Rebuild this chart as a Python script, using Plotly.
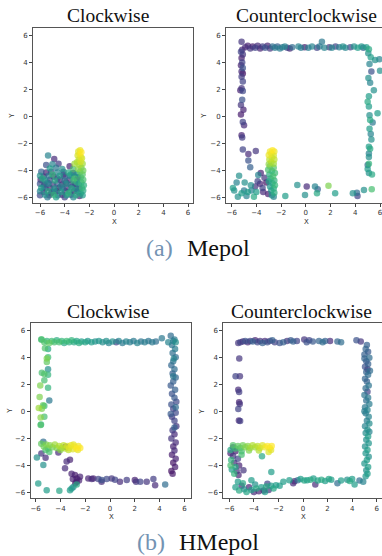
import plotly.graph_objects as go

# ---------------- data: (x, y, time-colour 0..1) ----------------
MEPOL_CW = [
    (-5.35,-2.9,0.45),(-4.85,-3.15,0.12),(-4.5,-3.5,0.18),(-5.5,-3.6,0.25),(-5.0,-3.55,0.45),
    (-3.6,-3.7,0.10),(-3.2,-3.5,0.85),(-3.3,-3.9,0.7),(-4.2,-3.9,0.5),(-5.2,-3.85,0.55),(-4.7,-3.8,0.4),
    (-2.75,-2.5,0.97),(-2.9,-2.6,0.95),(-2.65,-2.65,1.0),(-2.8,-2.8,0.98),(-2.95,-2.9,0.93),(-2.7,-3.0,0.96),
    (-2.6,-3.1,0.92),(-2.85,-3.2,0.9),(-3.0,-3.4,0.88),(-2.7,-3.35,0.94),(-2.55,-3.5,0.85),(-2.8,-3.6,0.87),
    (-2.65,-3.8,0.8),(-2.9,-3.9,0.82),(-2.5,-4.0,0.78),(-2.75,-4.1,0.75),
    (-2.55,-4.3,0.72),(-2.7,-4.5,0.68),(-2.5,-4.7,0.7),(-2.65,-4.9,0.65),(-2.45,-5.1,0.62),(-2.6,-5.3,0.66),
    (-2.5,-5.5,0.6),(-2.7,-5.7,0.58),(-2.55,-5.85,0.55),
    (-5.9,-4.1,0.3),(-5.5,-4.15,0.1),(-5.1,-4.1,0.2),(-4.6,-4.15,0.45),(-4.1,-4.1,0.35),(-3.7,-4.15,0.6),(-3.3,-4.2,0.1),(-3.0,-4.25,0.55),
    (-6.0,-4.4,0.5),(-5.7,-4.45,0.15),(-5.3,-4.4,0.4),(-4.9,-4.45,0.08),(-4.4,-4.4,0.55),(-4.0,-4.45,0.2),(-3.6,-4.4,0.45),(-3.2,-4.45,0.3),(-2.9,-4.5,0.12),
    (-5.95,-4.7,0.1),(-5.6,-4.75,0.5),(-5.2,-4.7,0.2),(-4.8,-4.75,0.6),(-4.4,-4.7,0.12),(-4.0,-4.75,0.4),(-3.6,-4.7,0.15),(-3.3,-4.75,0.65),(-3.0,-4.7,0.25),
    (-6.0,-5.0,0.25),(-5.65,-5.05,0.05),(-5.3,-5.0,0.45),(-4.95,-5.05,0.15),(-4.6,-5.0,0.3),(-4.2,-5.05,0.08),(-3.85,-5.0,0.5),(-3.5,-5.05,0.2),(-3.15,-5.0,0.1),(-2.85,-5.05,0.45),
    (-5.9,-5.3,0.55),(-5.55,-5.35,0.2),(-5.2,-5.3,0.1),(-4.85,-5.35,0.5),(-4.5,-5.3,0.05),(-4.15,-5.35,0.35),(-3.8,-5.3,0.12),(-3.45,-5.35,0.6),(-3.1,-5.3,0.2),(-2.8,-5.35,0.15),
    (-6.0,-5.55,0.45),(-5.7,-5.6,0.12),(-5.35,-5.55,0.6),(-5.0,-5.6,0.25),(-4.65,-5.55,0.1),(-4.3,-5.6,0.55),(-3.95,-5.55,0.15),(-3.6,-5.6,0.4),(-3.25,-5.55,0.05),(-2.9,-5.6,0.3),
    (-6.0,-5.85,0.22),(-5.6,-5.8,0.5),(-5.25,-5.85,0.15),(-4.9,-5.8,0.65),(-4.55,-5.85,0.3),(-4.2,-5.8,0.1),(-3.85,-5.85,0.55),(-3.5,-5.8,0.2),(-3.1,-5.85,0.6),(-2.8,-5.9,0.1),
    (-5.4,-6.0,0.4),(-4.7,-6.0,0.55),(-4.0,-6.0,0.2),(-3.3,-6.0,0.45),
    (-5.8,-4.6,0.6),(-5.4,-4.9,0.3),(-5.0,-4.3,0.65),(-4.6,-4.6,0.25),(-4.3,-5.2,0.45),(-3.9,-4.9,0.1),(-3.5,-4.3,0.55),
    (-3.4,-5.2,0.3),(-3.0,-4.9,0.6),(-4.8,-5.5,0.4),(-5.1,-5.7,0.08),(-3.7,-5.7,0.65),(-4.1,-4.3,0.15),(-5.7,-5.2,0.35),
    (-3.2,-4.6,0.7),(-3.05,-5.45,0.5),
]

MEPOL_CCW = [
    (-4.9,5.15,0.12),(-4.7,5.25,0.1),(-4.5,5.05,0.15),(-4.3,5.2,0.08),(-4.1,5.1,0.2),(-3.9,5.25,0.12),(-3.7,5.05,0.1),
    (-3.5,5.2,0.18),(-3.3,5.1,0.25),(-3.1,5.25,0.1),(-2.9,5.05,0.15),(-2.7,5.2,0.35),(-2.5,5.1,0.4),(-2.3,5.2,0.3),
    (-2.1,5.05,0.42),(-1.9,5.15,0.38),(-1.7,5.2,0.45),(-1.5,5.1,0.2),(-1.3,5.05,0.1),(-1.1,5.15,0.35),(-0.6,5.2,0.45),
    (-0.4,5.1,0.4),(-0.1,5.15,0.08),(0.2,5.1,0.42),(0.5,5.2,0.45),(0.9,5.1,0.2),(1.1,5.2,0.4),(1.3,5.55,0.4),
    (1.5,5.1,0.45),(1.9,5.15,0.15),(2.1,5.1,0.45),(2.4,5.2,0.2),(2.7,5.15,0.42),(3.0,5.2,0.5),(3.2,5.1,0.45),
    (3.6,5.15,0.2),(3.9,5.2,0.5),(4.2,5.1,0.55),(4.5,5.2,0.52),(4.65,5.1,0.3),(4.9,5.15,0.55),(5.1,5.0,0.6),
    (-5.2,5.55,0.15),(-5.15,4.95,0.12),(-5.25,4.8,0.2),(-5.1,4.6,0.15),(-5.2,4.35,0.08),(-5.15,4.0,0.2),(-5.25,3.8,0.1),
    (-5.1,3.6,0.25),(-5.2,3.35,0.12),(-5.1,3.2,0.05),(-5.2,2.95,0.18),(-5.1,2.6,0.2),(-5.2,2.1,0.15),(-5.3,1.95,0.1),
    (-5.1,1.9,0.22),(-5.15,1.25,0.25),(-5.25,0.85,0.15),(-5.05,0.5,0.1),(-5.25,0.15,0.08),(-5.1,-0.4,0.2),
    (-5.0,-0.65,0.12),(-5.2,-1.4,0.1),(-5.15,-1.55,0.18),
    (5.05,4.7,0.5),(5.6,4.2,0.5),(5.95,4.25,0.45),(5.3,3.35,0.25),(6.0,3.4,0.5),(5.06,2.85,0.5),(5.2,2.5,0.45),
    (5.5,1.95,0.5),(5.0,1.1,0.6),(5.1,0.75,0.55),(5.8,0.25,0.55),(5.15,0.1,0.5),(5.2,-0.25,0.6),(5.4,-0.45,0.4),
    (5.15,-0.9,0.55),(5.3,-1.7,0.5),(5.1,-2.25,0.55),(5.2,-2.4,0.6),(5.1,-2.75,0.45),(5.1,-3.0,0.5),(5.1,-3.5,0.65),
    (5.0,-3.9,0.55),(5.1,-4.2,0.5),(5.35,-4.3,0.6),(5.25,4.4,0.55),(5.15,3.9,0.45),(5.1,1.5,0.55),(5.25,-1.3,0.45),
    (5.0,-3.6,0.35),
    (-0.69,-5.08,0.5),(0.07,-5.2,0.12),(-0.07,-5.82,0.5),(0.74,-5.2,0.45),(0.96,-5.4,0.3),(0.9,-5.7,0.6),
    (1.83,-5.14,0.8),(2.37,-5.7,0.55),(-1.66,-5.9,0.55),(3.8,-5.7,0.5),(4.13,-5.65,0.35),(4.18,-5.9,0.2),
    (4.7,-5.45,0.5),(5.33,-5.4,0.7),
    (-5.1,-2.45,0.2),(-4.65,-2.78,0.12),(-4.05,-2.56,0.15),(-4.65,-3.27,0.25),(-4.5,-3.76,0.3),
    (-5.4,-4.4,0.5),(-3.85,-4.35,0.45),(-5.6,-4.9,0.45),(-5.8,-5.5,0.5),(-5.9,-5.3,0.55),(-4.95,-4.9,0.5),
    (-4.45,-5.1,0.5),(-4.4,-5.5,0.45),(-4.0,-5.6,0.55),(-5.2,-5.7,0.55),(-5.5,-5.95,0.5),(-4.8,-5.9,0.45),
    (-4.2,-5.95,0.6),(-5.0,-5.5,0.4),(-4.7,-5.6,0.55),
    (-3.65,-4.2,0.1),(-3.35,-4.55,0.15),(-3.7,-5.0,0.1),(-3.45,-5.6,0.12),(-3.05,-5.75,0.08),(-3.9,-4.8,0.2),
    (-3.2,-4.9,0.05),(-3.5,-5.3,0.2),(-4.1,-5.2,0.15),
    (-2.7,-2.5,1.0),(-2.9,-2.6,0.98),(-2.55,-2.6,0.97),(-2.8,-2.75,0.95),(-3.0,-2.85,0.97),(-2.6,-2.9,0.93),
    (-2.75,-3.05,0.92),(-2.95,-3.2,0.9),(-2.55,-3.2,0.9),(-2.8,-3.4,0.87),(-2.6,-3.5,0.85),(-3.0,-3.55,0.83),
    (-2.9,-3.7,0.75),(-2.6,-3.8,0.72),(-3.05,-3.95,0.7),(-2.75,-4.05,0.66),(-2.5,-4.2,0.68),(-2.95,-4.3,0.62),
    (-2.65,-4.45,0.7),(-2.85,-4.6,0.6),(-2.55,-4.75,0.64),(-3.0,-4.8,0.55),(-2.7,-4.95,0.58),(-2.5,-5.1,0.66),
    (-2.9,-5.2,0.52),(-2.6,-5.35,0.6),(-2.8,-5.5,0.55),(-2.55,-5.65,0.62),(-2.75,-5.85,0.5),(-2.6,-5.95,0.45),
]

HMEPOL_CW = [
    (-5.55,5.3,0.7),(-5.3,5.1,0.72),(-5.1,5.2,0.65),(-4.9,5.05,0.75),(-4.7,5.2,0.68),(-4.5,5.1,0.7),(-4.3,5.25,0.62),
    (-4.1,5.1,0.7),(-3.9,5.2,0.66),(-3.7,5.05,0.6),(-3.5,5.2,0.68),(-3.3,5.1,0.62),(-3.1,5.25,0.65),(-2.9,5.1,0.6),
    (-2.7,5.2,0.58),(-2.5,5.05,0.62),(-2.3,5.15,0.55),(-2.0,5.1,0.58),(-1.8,5.2,0.52),(-1.5,5.1,0.55),(-1.2,5.15,0.5),
    (-0.9,5.2,0.52),(-0.6,5.1,0.48),(-0.3,5.2,0.5),(-0.1,5.05,0.45),(0.2,5.15,0.5),(0.5,5.1,0.2),(0.7,5.2,0.45),
    (1.0,5.05,0.4),(1.3,5.15,0.45),(1.6,5.1,0.42),(1.9,5.2,0.4),(2.2,5.05,0.45),(2.5,5.15,0.38),(2.8,5.1,0.42),
    (3.1,5.2,0.38),(3.4,5.1,0.4),(3.7,5.15,0.36),(4.18,5.4,0.4),(4.9,5.58,0.35),(4.7,5.1,0.45),(5.1,5.2,0.42),(5.3,5.1,0.5),
    (5.2,5.3,0.4),(5.0,4.9,0.38),(5.25,4.6,0.42),(5.05,4.3,0.36),(5.3,4.0,0.35),(5.1,3.7,0.38),(4.95,3.4,0.33),
    (5.2,3.1,0.35),(5.05,2.8,0.3),(5.3,2.5,0.33),(5.1,2.2,0.3),(4.9,1.9,0.28),(5.25,1.6,0.3),(5.0,1.3,0.25),
    (5.2,1.0,0.28),(5.35,0.7,0.22),(4.95,0.5,0.25),(5.1,0.2,0.2),(5.3,-0.1,0.22),(5.0,-0.4,0.18),(5.2,-0.7,0.2),
    (5.35,-1.1,0.15),(5.05,-1.4,0.18),(5.2,-1.7,0.12),(4.95,-2.0,0.15),(5.3,-2.3,0.12),(5.1,-2.6,0.1),(5.2,-2.9,0.12),
    (5.0,-3.2,0.08),(5.3,-3.5,0.1),(5.1,-3.8,0.06),(5.25,-4.1,0.08),(4.95,-4.4,0.05),(5.05,-4.6,0.07),(5.2,-1.2,0.3),
    (5.3,0.3,0.35),(5.1,2.6,0.4),(4.9,-0.2,0.28),(5.15,3.9,0.45),
    (-1.35,-4.96,0.1),(-0.68,-5.2,0.12),(-0.94,-5.0,0.2),(-0.67,-5.07,0.25),(-0.27,-5.0,0.22),(0.13,-4.96,0.15),
    (0.4,-5.05,0.2),(0.8,-5.2,0.12),(1.35,-5.07,0.18),(2.0,-5.07,0.1),(2.1,-5.2,0.15),(2.44,-5.2,0.2),(2.96,-5.2,0.15),
    (3.5,-5.0,0.18),(3.64,-5.45,0.12),(4.45,-5.4,0.35),(-1.75,-4.95,0.1),(-1.48,-5.0,0.12),
    (-2.69,-5.2,0.08),(-2.42,-4.83,0.1),(-2.69,-4.95,0.05),(-2.83,-4.7,0.08),(-3.1,-4.6,0.1),(-3.63,-4.2,0.12),
    (-3.23,-3.57,0.1),(-3.5,-3.7,0.12),(-2.5,-5.1,0.1),(-2.8,-5.3,0.06),(-3.0,-5.0,0.1),
    (-4.17,-3.04,0.12),(-5.54,-3.12,0.15),(-5.2,-3.43,0.12),(-5.38,-3.97,0.5),(-5.79,-5.33,0.55),(-5.11,-5.82,0.55),
    (-4.09,-5.87,0.58),(-3.23,-5.82,0.55),(-2.96,-5.58,0.5),(-2.69,-5.4,0.6),(-3.1,-5.7,0.52),(-5.38,-2.25,0.35),
    (-5.57,-0.97,0.65),(-5.9,-3.4,0.5),(-4.9,-3.0,0.7),
    (-5.55,-2.4,0.75),(-5.35,-2.6,0.78),(-5.15,-2.45,0.8),(-5.0,-2.75,0.72),(-4.85,-2.5,0.82),(-4.65,-2.65,0.78),
    (-4.45,-2.45,0.85),(-4.3,-2.7,0.8),(-4.1,-2.55,0.88),(-3.9,-2.7,0.85),(-3.75,-2.5,0.9),(-3.6,-2.75,0.88),
    (-3.45,-2.55,0.93),(-3.3,-2.7,0.95),(-3.15,-2.5,0.97),(-3.0,-2.8,0.95),(-2.85,-2.6,0.98),(-2.7,-2.75,1.0),
    (-2.55,-2.55,0.98),(-2.4,-2.7,1.0),(-2.6,-2.85,0.96),(-2.95,-2.45,0.96),(-3.35,-2.85,0.9),(-4.0,-2.85,0.82),
    (-5.2,-2.85,0.7),(-3.6,-2.62,0.08),
    (-5.52,5.31,0.7),(-5.25,4.65,0.72),(-5.0,4.6,0.6),(-5.1,3.9,0.8),(-5.0,4.0,0.68),(-5.1,3.65,0.75),(-5.0,3.1,0.5),
    (-5.5,2.85,0.7),(-5.3,2.75,0.72),(-5.0,2.7,0.65),(-5.3,2.3,0.7),(-5.63,1.9,0.8),(-5.0,1.75,0.65),(-4.9,0.8,0.4),
    (-5.68,1.05,0.8),(-5.75,0.25,0.85),(-5.5,0.2,0.8),(-5.4,0.45,0.75),(-5.3,0.4,0.68),(-5.6,-0.45,0.82),
    (-5.3,-0.4,0.7),(-5.6,-1.0,0.72),
]

HMEPOL_CCW = [
    (-5.27,5.05,0.15),(-5.1,5.1,0.2),(-4.9,5.15,0.1),(-4.7,5.2,0.25),(-4.5,5.1,0.12),(-4.3,5.2,0.2),(-4.1,5.15,0.3),
    (-3.9,5.25,0.1),(-3.7,5.1,0.22),(-3.5,5.2,0.15),(-3.3,5.05,0.3),(-3.1,5.2,0.12),(-2.9,5.1,0.25),(-2.7,5.2,0.18),
    (-2.5,5.25,0.3),(-2.3,5.1,0.2),(-1.9,5.05,0.25),(-1.6,5.1,0.3),(-1.3,5.2,0.15),(-1.0,5.25,0.28),(-0.8,5.15,0.3),
    (-0.5,5.2,0.2),(0.1,5.3,0.15),(0.3,5.1,0.25),(0.5,5.25,0.2),(0.8,5.15,0.28),(1.3,5.2,0.32),(1.6,5.1,0.35),
    (1.8,5.2,0.3),(2.2,5.2,0.12),(2.8,5.15,0.32),(3.1,5.1,0.35),(4.35,5.25,0.25),(4.7,5.15,0.15),
    (-5.19,3.9,0.15),(-5.49,2.6,0.2),(-5.14,2.6,0.15),(-5.27,1.6,0.12),(-5.2,1.43,0.18),(-5.2,0.67,0.1),
    (-5.15,0.55,0.15),(-5.27,0.18,0.2),(-5.22,-0.68,0.12),(-5.12,-0.72,0.18),
    (5.2,4.9,0.3),(5.1,4.6,0.32),(5.3,4.4,0.28),(5.0,4.2,0.3),(5.4,3.95,0.35),(5.15,3.7,0.28),(5.3,3.5,0.3),
    (5.05,3.3,0.25),(5.25,3.1,0.12),(5.15,2.9,0.3),(5.3,2.7,0.35),(5.05,2.4,0.32),(5.2,2.2,0.3),(5.35,1.9,0.38),
    (5.1,1.7,0.35),(5.25,1.45,0.2),(5.0,1.2,0.38),(5.3,1.0,0.4),(5.15,0.8,0.35),(5.4,0.55,0.42),(5.05,0.3,0.4),
    (5.25,0.1,0.45),(5.1,-0.15,0.4),(5.35,-0.4,0.45),(5.2,-0.7,0.42),(5.4,-0.9,0.48),(5.05,-1.1,0.45),(5.25,-1.35,0.5),
    (5.1,-1.6,0.48),(5.3,-1.85,0.55),(5.15,-2.1,0.5),(5.35,-2.35,0.52),(5.05,-2.6,0.5),(5.25,-2.85,0.55),(5.1,-3.1,0.52),
    (5.35,-3.35,0.5),(5.2,-3.6,0.55),(5.0,-3.85,0.52),(5.3,-4.1,0.55),(5.15,-4.35,0.5),(5.25,-4.6,0.55),(5.1,-4.8,0.52),
    (5.45,3.0,0.35),(5.0,3.9,0.32),(5.4,-1.5,0.45),(5.0,0.0,0.42),
    (-1.6,-5.2,0.55),(-1.11,-5.08,0.55),(-0.8,-5.3,0.12),(-0.7,-5.16,0.1),(-0.43,-5.08,0.35),(-0.2,-5.0,0.55),
    (0.1,-5.1,0.58),(0.33,-5.08,0.55),(0.6,-5.05,0.6),(0.85,-4.95,0.55),(1.0,-5.4,0.12),(1.2,-5.1,0.58),(1.5,-5.05,0.6),
    (1.8,-5.15,0.55),(2.1,-5.0,0.58),(2.3,-5.05,0.55),(2.8,-5.3,0.35),(3.1,-5.1,0.55),(3.6,-5.05,0.5),(3.8,-5.15,0.6),
    (4.0,-5.0,0.55),(4.2,-5.4,0.55),(4.6,-5.1,0.35),(4.9,-5.2,0.45),
    (-5.9,-2.85,0.6),(-5.7,-2.5,0.72),(-5.5,-2.75,0.68),(-5.3,-2.55,0.75),(-5.1,-2.7,0.72),(-4.9,-2.5,0.78),
    (-4.7,-2.65,0.8),(-4.5,-2.55,0.82),(-4.3,-2.7,0.85),(-4.1,-2.5,0.88),(-3.9,-2.65,0.85),(-3.7,-2.55,0.9),
    (-3.5,-2.7,0.92),(-3.3,-2.5,0.95),(-3.1,-2.65,0.97),(-2.9,-2.55,1.0),(-2.7,-2.7,0.98),(-2.55,-2.55,1.0),
    (-2.6,-2.85,0.96),(-2.8,-3.0,0.95),(-3.6,-2.9,0.88),(-4.4,-2.9,0.8),(-5.0,-2.95,0.7),(-3.34,-3.31,0.6),
    (-5.9,-3.1,0.1),(-5.7,-3.3,0.15),(-5.5,-2.95,0.08),(-5.85,-3.6,0.65),(-5.6,-3.8,0.12),(-5.3,-3.5,0.2),
    (-5.5,-4.1,0.6),(-5.2,-4.0,0.1),(-5.8,-4.3,0.55),(-5.4,-4.4,0.15),(-5.6,-4.6,0.65),(-5.25,-4.7,0.1),
    (-4.85,-4.35,0.15),(-5.0,-3.2,0.7),(-5.7,-2.65,0.15),(-5.9,-4.0,0.7),(-5.3,-5.2,0.55),(-4.2,-5.08,0.55),
    (-2.58,-4.47,0.55),
    (-5.5,-5.6,0.55),(-5.2,-5.85,0.6),(-5.0,-5.5,0.12),(-4.8,-5.75,0.5),(-4.6,-5.95,0.58),(-4.4,-5.6,0.1),
    (-4.2,-5.8,0.55),(-4.0,-5.95,0.12),(-3.8,-5.7,0.6),(-3.6,-5.9,0.1),(-3.4,-5.6,0.55),(-3.2,-5.85,0.08),
    (-3.0,-5.55,0.6),(-2.8,-5.8,0.15),(-2.6,-5.5,0.55),(-2.4,-5.7,0.58),(-2.2,-5.45,0.55),(-1.9,-5.5,0.55),
    (-3.9,-5.4,0.5),(-4.9,-5.3,0.6),(-3.1,-5.95,0.55),(-2.9,-5.35,0.2),
]

PANEL_TITLES = ["Clockwise", "Counterclockwise", "Clockwise", "Counterclockwise"]
TICK_VALUES = [-6, -4, -2, 0, 2, 4, 6]
CAPTION_TAGS = ["(a)", "(b)"]
CAPTION_NAMES = ["Mepol", "HMepol"]

# ---------------- layout geometry (pixels in a 382x556 canvas) ----------------
W, H = 382, 556
def px(x): return x / W
def py(y): return 1 - y / H

panels = [
    # data, x-domain px, y-domain px (top,bottom), xrange, yrange, right line
    (MEPOL_CW,   (33, 193),    (28, 203),     (-6.57, 6.40), (-6.42, 6.57), True),
    (MEPOL_CCW,  (226, 382),   (28, 203),     (-6.46, 6.16), (-6.42, 6.57), False),
    (HMEPOL_CW,  (30.7, 190.7),(323.3, 498.3),(-6.40, 6.51), (-6.42, 6.50), True),
    (HMEPOL_CCW, (223.3, 381.5),(323.3, 498.3),(-6.49, 6.39), (-6.42, 6.50), True),
]

fig = go.Figure()
layout = dict(width=W, height=H, margin=dict(l=0, r=0, t=0, b=0),
              paper_bgcolor="white", plot_bgcolor="white", showlegend=False)

for i, (pts, xd, yd, xr, yr, rline) in enumerate(panels):
    n = "" if i == 0 else str(i + 1)
    pts_sorted = sorted(pts, key=lambda p: p[2])
    fig.add_trace(go.Scatter(
        x=[p[0] for p in pts_sorted], y=[p[1] for p in pts_sorted],
        mode="markers", xaxis="x" + n, yaxis="y" + n,
        marker=dict(size=6.5, color=[p[2] for p in pts_sorted], colorscale="Viridis",
                    cmin=0, cmax=1, opacity=0.7, line=dict(width=0)),
        hoverinfo="skip"))
    common = dict(showgrid=False, zeroline=False, showline=True, linecolor="#555555",
                  linewidth=1, ticks="outside", ticklen=3, tickwidth=0.8, tickcolor="#444444",
                  tickvals=TICK_VALUES, ticklabeloverflow="allow",
                  tickfont=dict(size=7, color="#333333", family="DejaVu Sans"))
    layout["xaxis" + n] = dict(common, domain=[px(xd[0]), px(xd[1])], range=list(xr),
                               anchor="y" + n, mirror=True)
    layout["yaxis" + n] = dict(common, domain=[py(yd[1]), py(yd[0])], range=list(yr),
                               anchor="x" + n, mirror=rline)

fig.update_layout(**layout)

# titles
title_pos = [(108, 15), (306.7, 15), (108, 311.7), (301.7, 311.7)]
for t, (x, y) in zip(PANEL_TITLES, title_pos):
    fig.add_annotation(text=t, x=px(x), y=py(y), xref="paper", yref="paper",
                       showarrow=False, xanchor="center", yanchor="middle",
                       font=dict(family="Liberation Serif", size=19.5, color="#111111"))

# axis labels
xl_pos = [(114, 221.5), (306.7, 221.5), (111, 516.5), (303.3, 516.5)]
yl_pos = [(11.7, 116), (204, 115.7), (10, 410.7), (201.7, 411.7)]
for (x, y) in xl_pos:
    fig.add_annotation(text="X", x=px(x), y=py(y), xref="paper", yref="paper", showarrow=False,
                       xanchor="center", yanchor="middle",
                       font=dict(family="DejaVu Sans", size=7, color="#333333"))
for (x, y) in yl_pos:
    fig.add_annotation(text="Y", x=px(x), y=py(y), xref="paper", yref="paper", showarrow=False,
                       xanchor="center", yanchor="middle", textangle=-90,
                       font=dict(family="DejaVu Sans", size=7, color="#333333"))

# captions
cap_tag_right = [175, 166.7]
cap_name_left = [185, 177.3]
cap_y = [248, 542]
for tag, name, xr_, xl_, y in zip(CAPTION_TAGS, CAPTION_NAMES, cap_tag_right, cap_name_left, cap_y):
    fig.add_annotation(text=tag, x=px(xr_), y=py(y), xref="paper", yref="paper", showarrow=False,
                       xanchor="right", yanchor="middle",
                       font=dict(family="Liberation Serif", size=24, color="#7393b3"))
    fig.add_annotation(text=name, x=px(xl_), y=py(y), xref="paper", yref="paper", showarrow=False,
                       xanchor="left", yanchor="middle",
                       font=dict(family="Liberation Serif", size=24, color="#111111"))

fig.write_html("out.html", config={"displayModeBar": False},
               post_script="document.body.style.margin='0';document.body.style.padding='0';"
                           "document.documentElement.style.overflow='hidden';")
